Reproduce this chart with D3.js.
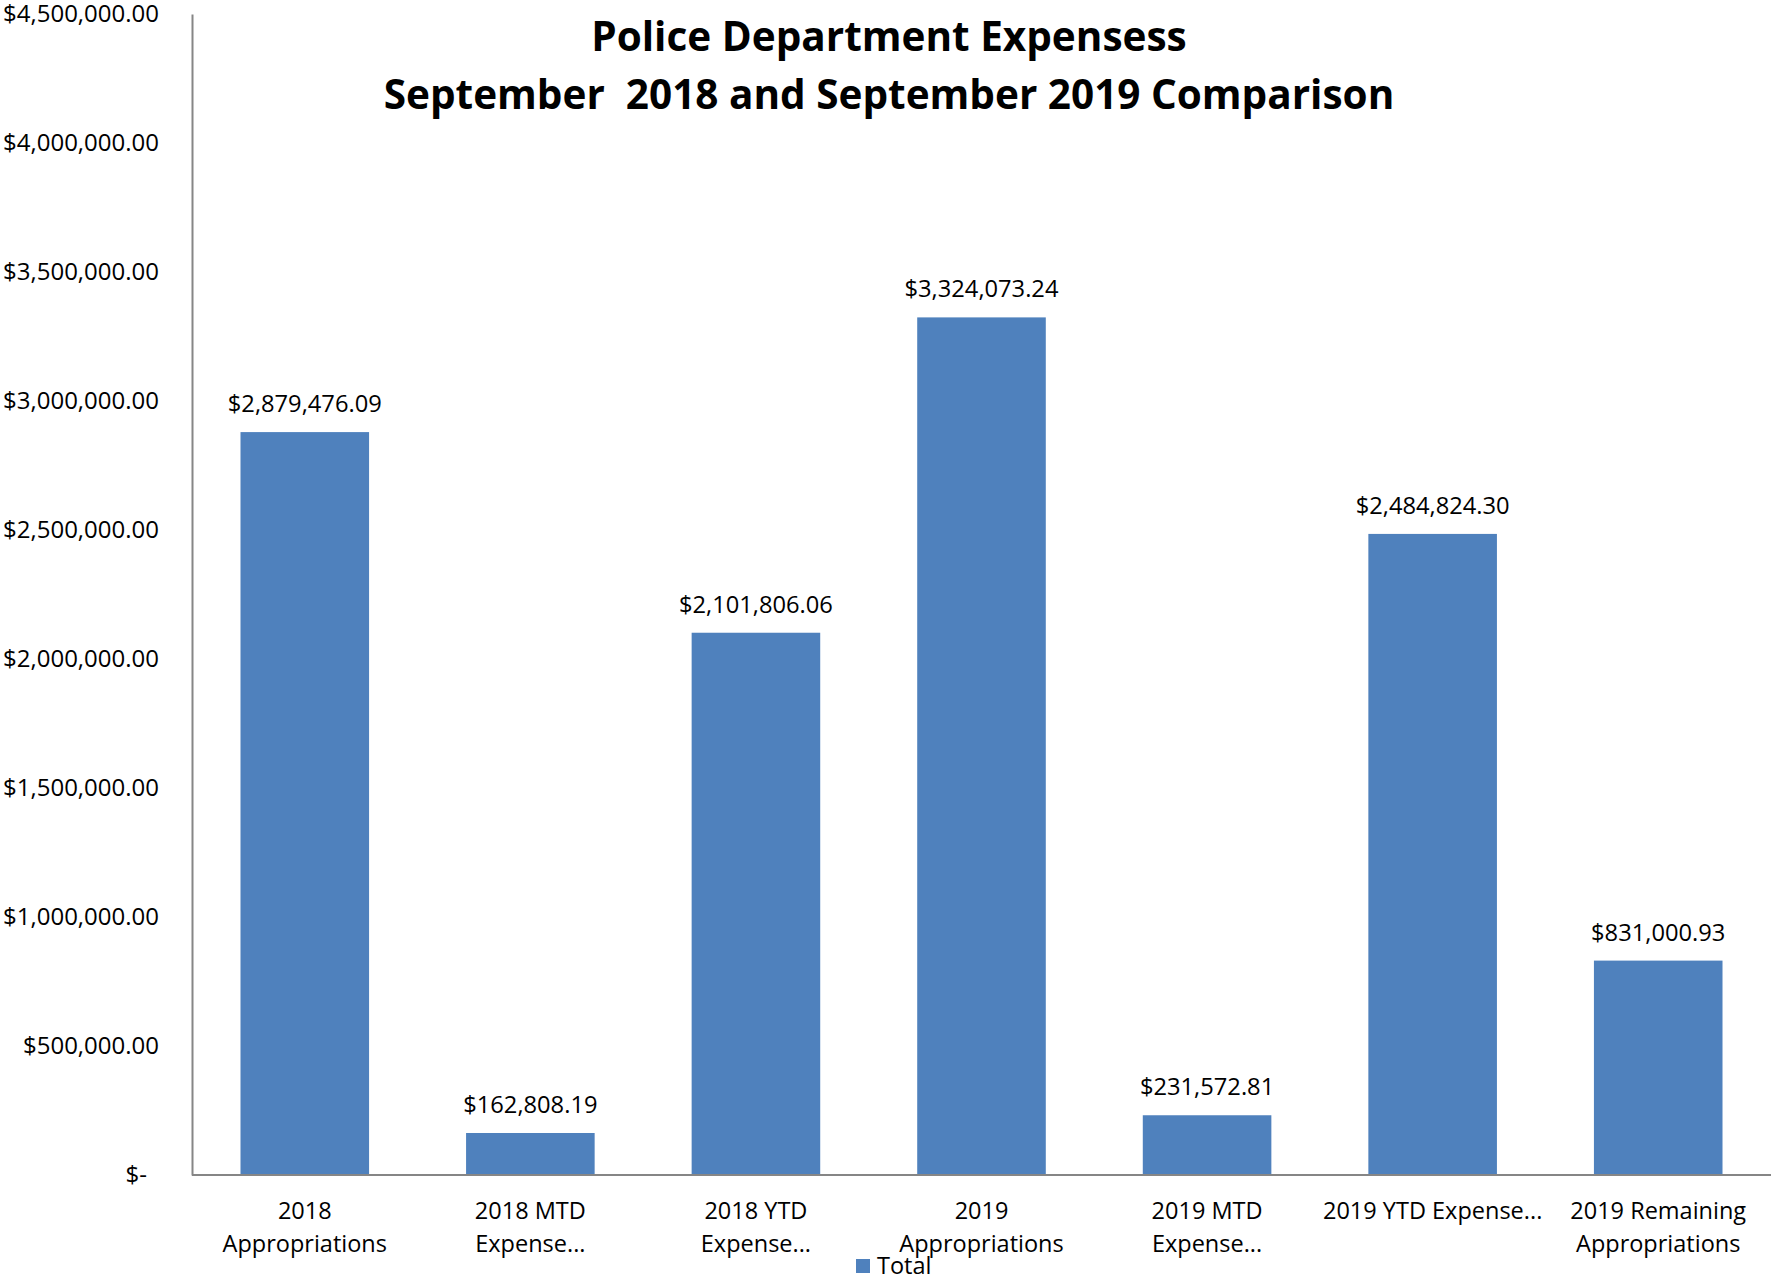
<!DOCTYPE html>
<html lang="en">
<head>
    <title>Police Department Expenses</title>
    <script src="https://d3js.org/d3.v7.min.js"></script>
    <style>
        body { margin: 0; background: #fff; }
        text { font-family: "Open Sans", "Noto Sans", sans-serif; fill: #000; }
        .axis path, .axis line { stroke: #868686; stroke-width: 2; }
        .title { font-weight: bold; font-size: 40.5px; }
    </style>
</head>
<body>

<script>
    const titleLines = ["Police Department Expensess", "September  2018 and September 2019 Comparison"];
    const categories = [
        ["2018", "Appropriations"],
        ["2018 MTD", "Expense..."],
        ["2018 YTD", "Expense..."],
        ["2019", "Appropriations"],
        ["2019 MTD", "Expense..."],
        ["2019 YTD Expense..."],
        ["2019 Remaining", "Appropriations"]
    ];
    const values = [2879476.09, 162808.19, 2101806.06, 3324073.24, 231572.81, 2484824.30, 831000.93];
    const yTicks = [0, 500000, 1000000, 1500000, 2000000, 2500000, 3000000, 3500000, 4000000, 4500000];
    const seriesName = "Total";

    const W = 1771, H = 1281;
    const m = {left: 192, right: 1771, top: 14, bottom: 1175};

    const money = d3.format("$,.2f");

    const x = d3.scaleBand().domain(d3.range(values.length)).range([m.left, m.right]).paddingInner(0.43).paddingOuter(0.215);
    const y = d3.scaleLinear().domain([0, 4500000]).range([m.bottom, m.top]);

    const svg = d3.select("body").append("svg").attr("width", W).attr("height", H);

    // title
    svg.append("g").selectAll("text")
        .data(titleLines).enter()
        .append("text").attr("class", "title")
        .attr("x", 889).attr("y", (d, i) => 51 + i * 58)
        .attr("text-anchor", "middle")
        .style("white-space", "pre")
        .text(d => d);

    // bars
    svg.append("g").selectAll("rect")
        .data(values).enter()
        .append("rect")
        .attr("x", (d, i) => x(i))
        .attr("width", x.bandwidth())
        .attr("y", d => y(d))
        .attr("height", d => m.bottom - y(d))
        .attr("fill", "#4f81bd");

    // value labels
    svg.append("g").selectAll("text")
        .data(values).enter()
        .append("text")
        .attr("x", (d, i) => x(i) + x.bandwidth() / 2)
        .attr("y", d => y(d) - 20)
        .attr("text-anchor", "middle")
        .style("font-size", "23.7px")
        .text(d => money(d));

    // y axis
    const yAxis = d3.axisLeft(y).tickValues(yTicks).tickSize(0).tickPadding(33)
        .tickFormat(d => d === 0 ? "$-" : money(d));
    const gy = svg.append("g").attr("class", "axis").attr("transform", `translate(${m.left},0)`).call(yAxis);
    gy.selectAll("text").style("font-size", "24px").attr("fill", "#000");
    gy.selectAll(".tick").filter(d => d === 0).select("text").attr("dx", -12);

    // x axis line
    svg.append("line").attr("x1", m.left).attr("x2", m.right).attr("y1", m.bottom).attr("y2", m.bottom)
        .attr("stroke", "#868686").attr("stroke-width", 2);

    // category labels
    const cat = svg.append("g").selectAll("text")
        .data(categories).enter()
        .append("text")
        .attr("x", (d, i) => x(i) + x.bandwidth() / 2)
        .attr("y", m.bottom + 44)
        .attr("text-anchor", "middle")
        .style("font-size", "23.5px");
    cat.selectAll("tspan")
        .data(d => d).enter()
        .append("tspan")
        .attr("x", function () { return d3.select(this.parentNode).attr("x"); })
        .attr("dy", (d, i) => i === 0 ? 0 : 33)
        .text(d => d);

    // legend
    const lg = svg.append("g").attr("transform", "translate(856,1259)");
    lg.append("rect").attr("width", 14).attr("height", 14).attr("fill", "#4f81bd");
    lg.append("text").attr("x", 21).attr("y", 15).style("font-size", "23.5px").text(seriesName);
</script>

</body>
</html>
